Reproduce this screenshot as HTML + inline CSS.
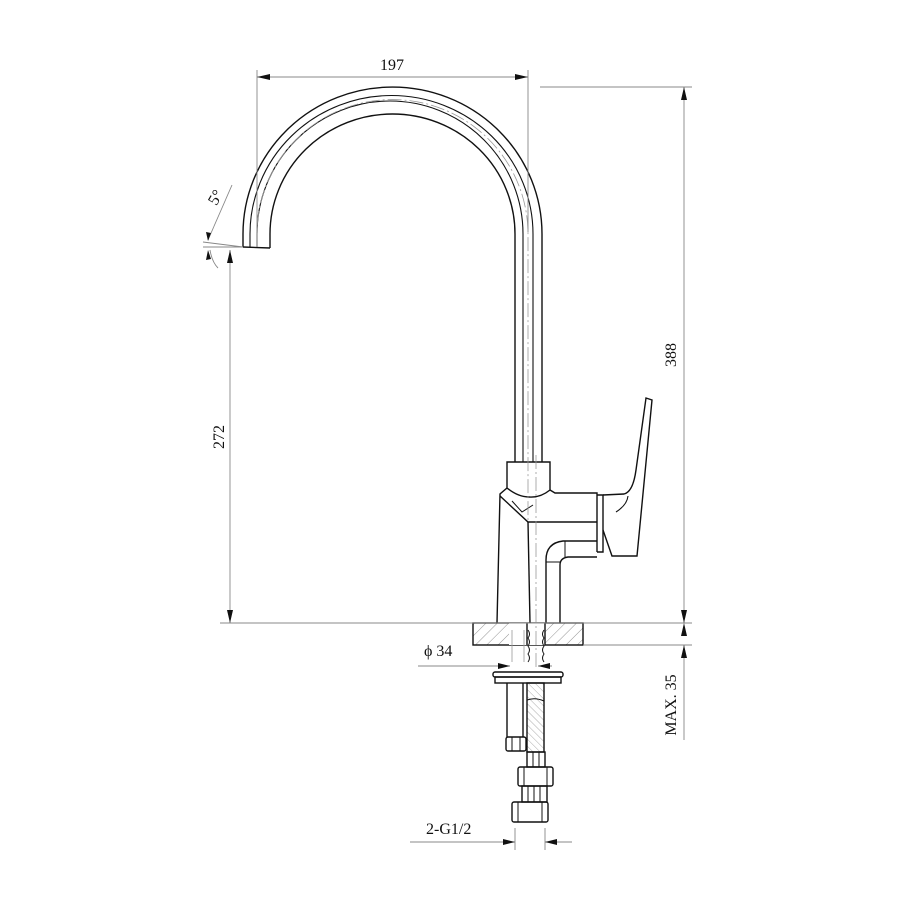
<!DOCTYPE html>
<html><head><meta charset="utf-8"><style>
html,body{margin:0;padding:0;background:#fff;}
svg{display:block;}
text{font-family:"Liberation Serif",serif;fill:#111;}
</style></head><body>
<svg width="900" height="900" viewBox="0 0 900 900" xmlns="http://www.w3.org/2000/svg">
<defs>
<pattern id="h" width="8" height="8" patternUnits="userSpaceOnUse" patternTransform="rotate(45)">
<line x1="0" y1="0" x2="0" y2="8" stroke="#777" stroke-width="0.8"/></pattern>
<pattern id="h2" width="5" height="5" patternUnits="userSpaceOnUse" patternTransform="rotate(-45)">
<line x1="0" y1="0" x2="0" y2="5" stroke="#888" stroke-width="0.7"/></pattern>
</defs>
<g fill="none" stroke="#111" stroke-width="1.4">
<!-- spout -->
<path d="M243,247 L243,234 A149.5,147 0 0 1 542,234 L542,462"/>
<path d="M250,247 L250,234 A141,138 0 0 1 533,234 L533,462" stroke-width="1.1"/>
<path d="M257,247 L257,234 A128,128 0 0 1 523,234 L523,462" stroke-width="1.1"/>
<path d="M270,248 L270,234 A122.5,120 0 0 1 515,234 L515,462"/>
<path d="M243,247 L270,248"/>
<!-- collar -->
<path d="M507,462 L550,462 L550,490 Q540,498 529,497 Q518,497 507,488 Z"/>
<!-- body -->
<path d="M507,488 L500,494 L497,623"/>
<path d="M550,490 L555,493 L597,493 L597,552"/>
<path d="M500,496 L528,522 L597,522"/>
<path d="M512,501 L522,512 L533,505" stroke-width="1"/>
<path d="M528,522 L530,623"/>
<path d="M597,541 L563,541 Q546,543 546,560 L546,623"/>
<path d="M597,557 L568,557 Q560,558 560,565 L560,623"/>
<path d="M546,562 L560,562" stroke-width="1"/>
<path d="M565,541 L565,557" stroke-width="1"/>
<!-- handle -->
<path d="M597,495 L603,495 L603,552 L597,552"/>
<path d="M603,495 L624,494 Q633,492 636,470 L646,398 L652,400 L637,556 L612,556 L603,530"/>
<path d="M616,512 Q627,505 628,496" stroke-width="1.1"/>
<!-- base plate -->
<rect x="473" y="623" width="110" height="22" fill="url(#h)"/>
<rect x="509" y="623" width="36" height="22" fill="#fff" stroke="none"/>
<path d="M527,623 L527,645 M545,623 L545,645"/>
<path d="M512,630 L512,662 M524,630 L524,662" stroke="#999" stroke-width="0.8"/>
<path d="M528,630 Q531,634 528,638 Q531,642 528,646 Q531,650 528,654 Q531,658 528,662 M544,630 Q541,634 544,638 Q541,642 544,646 Q541,650 544,654 Q541,658 544,662" stroke-width="1"/>
<!-- washer -->
<rect x="493" y="672" width="70" height="5" rx="2"/>
<rect x="495" y="677" width="66" height="6"/>
<!-- left tube -->
<path d="M507,683 L507,737 M523,683 L523,737"/>
<rect x="506" y="737" width="20" height="14" rx="2"/>
<path d="M512,737 L512,751 M520,737 L520,751" stroke-width="1"/>
<!-- hose -->
<rect x="527" y="683" width="17" height="69" fill="url(#h2)"/>
<path d="M527,700 Q535,697 544,701" stroke-width="1"/>
<rect x="527" y="752" width="18" height="15"/>
<path d="M533,752 L533,767 M539,752 L539,767" stroke-width="1"/>
<rect x="518" y="767" width="35" height="19" rx="2"/>
<path d="M524,767 L524,786 M547,767 L547,786" stroke-width="1"/>
<rect x="522" y="786" width="25" height="16"/>
<path d="M528,786 L528,802 M534,786 L534,802 M540,786 L540,802" stroke-width="1"/>
<rect x="512" y="802" width="36" height="20" rx="2"/>
<path d="M518,802 L518,822 M542,802 L542,822" stroke-width="1"/>
</g>
<!-- center lines -->
<g fill="none" stroke="#999" stroke-width="0.8" stroke-dasharray="14,3,2,3">
<path d="M257,247 L257,234 A134,133 0 0 1 528,234 L528,520"/>
<path d="M536,455 L536,670"/>
</g>
<!-- dimension / extension lines -->
<g fill="none" stroke="#888" stroke-width="0.9">
<path d="M257,70 L257,240 M528,70 L528,232"/>
<path d="M257,77 L528,77"/>
<path d="M540,87 L692,87 M220,623 L692,623 M583,645 L692,645"/>
<path d="M684,87 L684,623 M684,645 L684,740"/>
<path d="M230,250 L230,623"/>
<path d="M203,247 L243,247 M203,242 L243,247"/>
<path d="M208,240 L232,185"/>
<path d="M210,250 Q212,262 218,268"/>
<path d="M418,666 L510,666 M538,666 L552,666"/>
<path d="M410,842 L515,842 M545,842 L572,842 M515,828 L515,850 M545,828 L545,850"/>
</g>
<g fill="#111" stroke="none">
<polygon points="257,77 270,74 270,80"/><polygon points="528,77 515,74 515,80"/>
<polygon points="684,87 681,100 687,100"/><polygon points="684,623 681,610 687,610"/>
<polygon points="684,645 681,658 687,658"/><polygon points="684,623 681,636 687,636"/>
<polygon points="230,250 227,263 233,263"/><polygon points="230,623 227,610 233,610"/>
<polygon points="208,241 206,232 211,233"/><polygon points="208,250 206,260 211,259"/>
<polygon points="510,666 498,663 498,669"/><polygon points="538,666 550,663 550,669"/>
<polygon points="515,842 503,839 503,845"/><polygon points="545,842 557,839 557,845"/>
</g>
<text x="392" y="70" font-size="16" text-anchor="middle">197</text>
<text x="424" y="656" font-size="16">ϕ 34</text>
<text x="426" y="834" font-size="16">2-G1/2</text>
<text transform="translate(676,355) rotate(-90)" font-size="16" text-anchor="middle">388</text>
<text transform="translate(224,437) rotate(-90)" font-size="16" text-anchor="middle">272</text>
<text transform="translate(676,705) rotate(-90)" font-size="16" text-anchor="middle">MAX. 35</text>
<text transform="translate(220,200) rotate(-60)" font-size="16" text-anchor="middle">5°</text>
</svg>
</body></html>
